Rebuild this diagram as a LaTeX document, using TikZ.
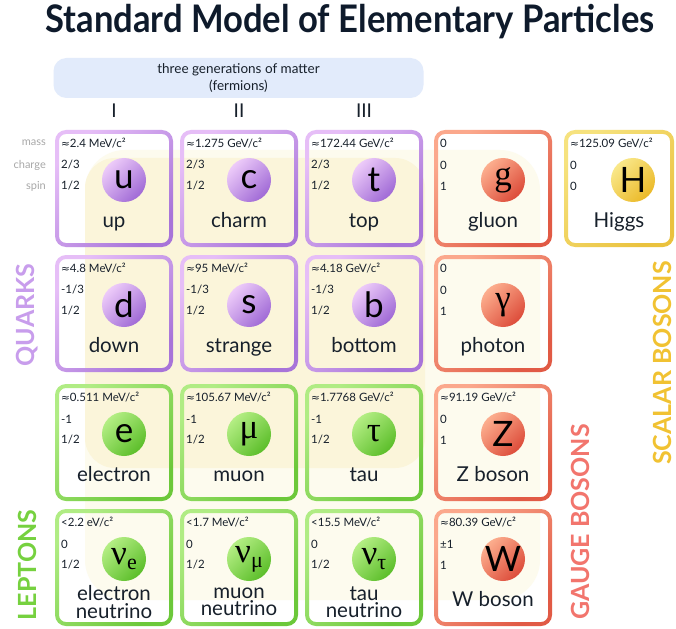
\documentclass[tikz,border=0pt]{standalone}
\usepackage{fontspec}
\setmainfont{Lato}
\newfontfamily\symf{DejaVu Sans}
\newfontfamily\grk{Liberation Serif}
\usetikzlibrary{calc}

\definecolor{qL}{HTML}{E6BEF7}\definecolor{qD}{HTML}{A874D9}
\definecolor{qbL}{HTML}{EDCBF9}\definecolor{qbD}{HTML}{A06AD6}
\definecolor{lL}{HTML}{B0EC84}\definecolor{lD}{HTML}{6CC83A}
\definecolor{lbL}{HTML}{B4EE84}\definecolor{lbD}{HTML}{5CBE2A}
\definecolor{gL}{HTML}{FBA88C}\definecolor{gD}{HTML}{E15A45}
\definecolor{gbL}{HTML}{FCAE8E}\definecolor{gbD}{HTML}{DD4C3A}
\definecolor{hL}{HTML}{F6E27E}\definecolor{hD}{HTML}{EAC23E}
\definecolor{hbL}{HTML}{F9E88A}\definecolor{hbD}{HTML}{EBB928}
\definecolor{txt}{HTML}{17202B}
\definecolor{titlec}{HTML}{0E1A2B}
\definecolor{graylab}{HTML}{A8A8A8}
\definecolor{band}{HTML}{E2EBFB}
\definecolor{creamA}{HTML}{FBF5DA}
\definecolor{creamB}{HTML}{FDFBEE}
\definecolor{quarkT}{HTML}{C89DEC}
\definecolor{leptonT}{HTML}{76D13F}
\definecolor{gaugeT}{HTML}{F2756D}
\definecolor{scalarT}{HTML}{F1C232}

\newcommand\cw{118}
\newcommand\nmbase{97}
\newcommand\appr{{\symf\fontsize{10.5}{12}\selectfont ≈}}

\tikzset{
  cardbox/.style={rectangle, inner sep=0pt, outer sep=0pt, minimum height=117pt, anchor=north west},
  border/.style={top color=#1L, bottom color=#1D, shading angle=45, even odd rule, rounded corners=11pt},
  ball/.style={circle, inner sep=0pt, minimum size=44pt, top color=#1bL, bottom color=#1bD, shading angle=45,
     text=black, font=\fontsize{35}{35}\selectfont},
  info/.style={anchor=west, inner sep=0pt, text=txt, font=\fontsize{11.5}{13}\selectfont},
  nm/.style={inner sep=0pt, text=txt, font=\fontsize{20.5}{20}\selectfont},
  nm2/.style={inner sep=0pt, text=txt, align=center, font=\fontsize{20.5}{17.5}\selectfont},
  sidelab/.style={rotate=90, inner sep=0pt, font=\bfseries\fontsize{25}{25}\selectfont},
  rowlab/.style={anchor=east, inner sep=0pt, text=graylab, font=\fontsize{11}{13}\selectfont},
  roman/.style={inner sep=0pt, text=txt, font=\fontsize{19}{19}\selectfont}
}

% #1 name #2 x #3 y #4 kind #5 mass #6 charge #7 spin #8 symbol #9 label
\newcommand\card[9]{%
  \node[cardbox, minimum width=\cw pt] (#1) at (#2,#3) {};
  \shade[border=#4] (#1.north west) rectangle (#1.south east)
     [rounded corners=7pt] ([shift={(4,4)}]#1.north west) rectangle ([shift={(-4,-4)}]#1.south east);
  \node[ball=#4] (#1b) at ([shift={(69,50)}]#1.north west) {#8};
  \node[info] (#1m) at ([shift={(6,13)}]#1.north west) {#5};
  \node[info] (#1q) at ([shift={(6,35)}]#1.north west) {#6};
  \node[info] (#1s) at ([shift={(6,56)}]#1.north west) {#7};
  \if\relax\detokenize{#9}\relax\else
  \node[nm, anchor=base] (#1n) at ([shift={(\cw/2,\nmbase)}]#1.north west) {#9};
  \fi
}
\newcommand\sub[2]{#1\raisebox{-5pt}{\fontsize{22}{22}\selectfont #2}}

\begin{document}
\begin{tikzpicture}[x=1pt,y=-1pt]
\useasboundingbox (0,0) rectangle (676,628);
\fill[white] (0,0) rectangle (676,628);

% background blobs
\fill[creamB, rounded corners=40pt] (85,150) rectangle (540,600);
\fill[creamA, rounded corners=30pt] (85,158) rectangle (425,468);

% title
\node[inner sep=0pt, text=titlec, font=\bfseries\fontsize{38}{38}\selectfont, xscale=0.91] (title) at (350,22) {Standard Model of Elementary Particles};

% header band
\node[fill=band, rounded corners=13pt, minimum width=370pt, minimum height=40pt, inner sep=0pt] (band) at (238.5,78) {};
\node[inner sep=0pt, text=txt, font=\fontsize{13.5}{17}\selectfont, align=center] (bandtxt) at (238.5,78) {three generations of matter\\(fermions)};
\node[roman] (g1) at (114,111) {I};
\node[roman] (g2) at (239,111) {II};
\node[roman] (g3) at (364,111) {III};

% row labels
\node[rowlab] (lm) at (46,143) {mass};
\node[rowlab] (lc) at (46,165) {charge};
\node[rowlab] (ls) at (46,186) {spin};

% quarks
\card{u}{55}{130}{q}{\appr2.4 MeV/c²}{2/3}{1/2}{u}{up}
\card{c}{180}{130}{q}{\appr1.275 GeV/c²}{2/3}{1/2}{c}{charm}
\card{t}{305}{130}{q}{\appr172.44 GeV/c²}{2/3}{1/2}{t}{top}
\card{d}{55}{255}{q}{\appr4.8 MeV/c²}{-1/3}{1/2}{d}{down}
\card{s}{180}{255}{q}{\appr95 MeV/c²}{-1/3}{1/2}{s}{strange}
\card{b}{305}{255}{q}{\appr4.18 GeV/c²}{-1/3}{1/2}{b}{bottom}

% gauge bosons
\card{gl}{434}{130}{g}{0}{0}{1}{\grk g}{gluon}
\card{ph}{434}{255}{g}{0}{0}{1}{\grk γ}{photon}
\card{Zb}{434}{384}{g}{\appr91.19 GeV/c²}{0}{1}{Z}{Z boson}
\card{Wb}{434}{509}{g}{\appr80.39 GeV/c²}{±1}{1}{W}{W boson}

% leptons
\card{e}{55}{384}{l}{\appr0.511 MeV/c²}{-1}{1/2}{e}{electron}
\card{mu}{180}{384}{l}{\appr105.67 MeV/c²}{-1}{1/2}{\grk μ}{muon}
\card{ta}{305}{384}{l}{\appr1.7768 GeV/c²}{-1}{1/2}{\grk τ}{tau}
\card{ve}{55}{509}{l}{<2.2 eV/c²}{0}{1/2}{\sub{\grk ν}{e}}{}
\card{vm}{180}{509}{l}{<1.7 MeV/c²}{0}{1/2}{\sub{\grk ν}{\grk μ}}{}
\card{vt}{305}{509}{l}{<15.5 MeV/c²}{0}{1/2}{\sub{\grk ν}{\grk τ}}{}
\node[nm2] (ve2) at ([shift={(59,93)}]ve.north west) {electron\\neutrino};
\node[nm2] (vm2) at ([shift={(59,93)}]vm.north west) {muon\\neutrino};
\node[nm2] (vt2) at ([shift={(59,93)}]vt.north west) {tau\\neutrino};

% higgs
\renewcommand\cw{110}
\card{H}{564}{130}{h}{\appr125.09 GeV/c²}{0}{0}{H}{Higgs}

% side labels
\node[sidelab, text=quarkT] (lq) at (27,315) {QUARKS};
\node[sidelab, text=leptonT] (ll) at (27,565) {LEPTONS};
\node[sidelab, text=gaugeT] (lg) at (580,522) {GAUGE BOSONS};
\node[sidelab, text=scalarT] (lsb) at (662,363) {SCALAR BOSONS};
\end{tikzpicture}
\end{document}
